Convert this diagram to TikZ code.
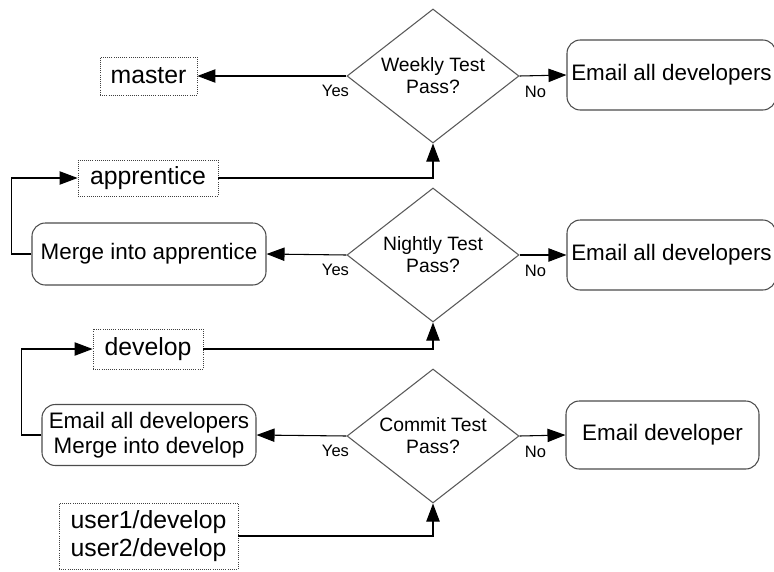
\documentclass[tikz,border=0pt]{standalone}
\usepackage{fontspec}
\setmainfont{Liberation Sans}
\usetikzlibrary{shapes.geometric,arrows.meta}

\begin{document}
\begin{tikzpicture}[x=0.75pt,y=-0.75pt,
    branch/.style={draw=black!75, densely dotted, line width=0.6pt, inner sep=0pt, align=center,
      font=\fontsize{18.6}{21}\selectfont},
    action/.style={draw=black!70, rounded corners=10pt, line width=0.8pt, inner sep=0pt, align=center,
      font=\fontsize{16.8}{19}\selectfont},
    test/.style={draw=black!65, diamond, aspect=1.28, line width=0.8pt, inner sep=0pt,
      minimum width=129pt, minimum height=100.5pt, align=center, font=\fontsize{14.5}{16.5}\selectfont},
    answer/.style={inner sep=0pt, font=\fontsize{12.4}{14}\selectfont},
    flow/.style={-{Triangle[length=13.5pt,width=10pt]}, line width=0.8pt}]

  \useasboundingbox (0,0) rectangle (774,571);

  % weekly level
  \node[test] (weekly) at (433,76) {Weekly Test\\Pass?};
  \node[action, minimum width=156.75pt, minimum height=52.5pt] (mailall) at (671.5,75) {Email all developers};
  \node[branch, minimum width=72.75pt, minimum height=28.5pt] (master) at (148.5,76) {master};

  % nightly level
  \node[test] (nightly) at (433,255) {Nightly Test\\Pass?};
  \node[action, minimum width=156.75pt, minimum height=52.5pt] (mailallb) at (671.5,255) {Email all developers};
  \node[action, minimum width=175.5pt, minimum height=46.5pt] (mergeapp) at (149,254) {Merge into apprentice};
  \node[branch, minimum width=105pt, minimum height=27pt] (apprentice) at (148,178) {apprentice};

  % commit level
  \node[test] (commit) at (433,436) {Commit Test\\Pass?};
  \node[action, minimum width=144.75pt, minimum height=51pt] (maildev) at (662.5,435) {Email developer};
  \node[action, minimum width=160.5pt, minimum height=45.75pt] (mergedev) at (149,435) {Email all developers\\Merge into develop};
  \node[branch, minimum width=82.5pt, minimum height=30pt] (develop) at (148,349) {develop};
  \node[branch, minimum width=134.25pt, minimum height=49.5pt] (users) at (148.5,536) {user1/develop\\user2/develop};

  \draw[flow] (weekly.west) -- (master.east);
  \draw[flow] (weekly.east) -- (mailall.west);
  \draw[flow] (apprentice.east) -| (weekly.south);
  \draw[flow] (mergeapp.west) -- ++(-20,0) |- (apprentice.west);

  \draw[flow] (nightly.west) -- (mergeapp.east);
  \draw[flow] (nightly.east) -- (mailallb.west);
  \draw[flow] (develop.east) -| (nightly.south);
  \draw[flow] (mergedev.west) -- ++(-20,0) |- (develop.west);

  \draw[flow] (commit.west) -- (mergedev.east);
  \draw[flow] (commit.east) -- (maildev.west);
  \draw[flow] (users.east) -| (commit.south);

  \foreach \t in {weekly,nightly,commit}{
    \node[answer] (\t-yes) at ([shift={(-11,15)}]\t.west) {Yes};
    \node[answer] (\t-no) at ([shift={(16,16)}]\t.east) {No};
  }
\end{tikzpicture}
\end{document}
